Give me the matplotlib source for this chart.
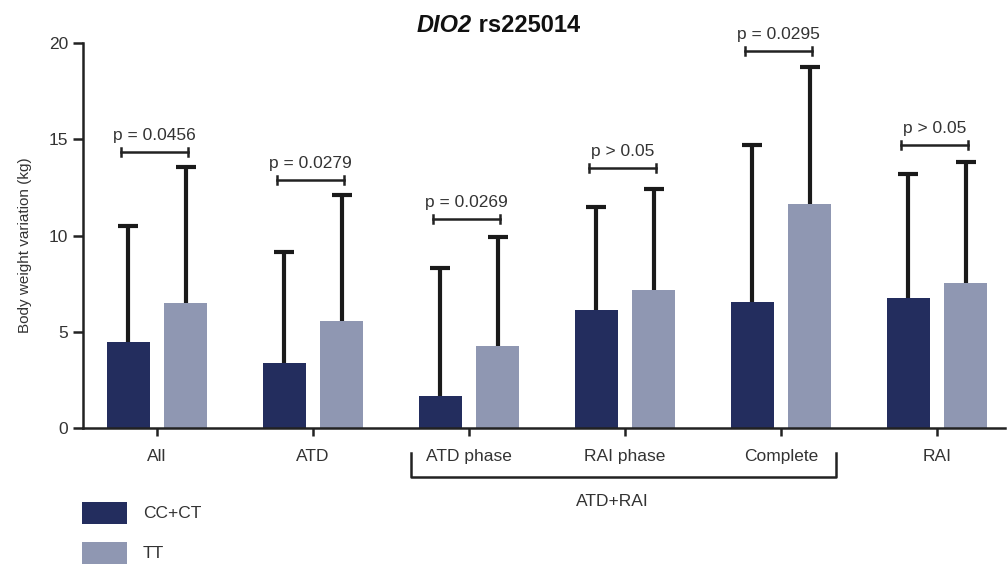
import numpy as np
import matplotlib
matplotlib.use('Agg')
import matplotlib.pyplot as plt
from matplotlib.patches import Rectangle

plt.rcParams['font.family'] = ['Liberation Sans', 'DejaVu Sans']

# data
categories = ['All', 'ATD', 'ATD phase', 'RAI phase', 'Complete', 'RAI']
series_names = ['CC+CT', 'TT']
mean_cc = [4.47, 3.38, 1.64, 6.13, 6.53, 6.75]
mean_tt = [6.49, 5.56, 4.26, 7.17, 11.64, 7.52]
sd_cc = [6.02, 5.76, 6.69, 5.37, 8.17, 6.44]
sd_tt = [7.07, 6.54, 5.65, 5.26, 7.11, 6.30]
p_labels = ['p = 0.0456', 'p = 0.0279', 'p = 0.0269', 'p > 0.05', 'p = 0.0295', 'p > 0.05']
p_heights = [14.35, 12.9, 10.85, 13.5, 19.6, 14.7]
group_label = 'ATD+RAI'
title_gene = 'DIO2'
title_snp = ' rs225014'
ylabel = 'Body weight variation (kg)'

dark = '#232d5e'
light = '#8f97b2'
txt = '#333333'

fig = plt.figure(figsize=(10.07, 5.64), dpi=100)
ax = fig.add_axes([83/1007, 1 - 428/564, (1005 - 83)/1007, (428 - 43)/564])

x = np.arange(len(categories))
w = 0.276
off = 0.185

ax.bar(x - off, mean_cc, w, color=dark, zorder=2)
ax.bar(x + off, mean_tt, w, color=light, zorder=2)
# upper error bars only
for xs, m, sd in [(x - off, mean_cc, sd_cc), (x + off, mean_tt, sd_tt)]:
    eb = ax.errorbar(xs, m, yerr=[np.zeros(len(x)), sd], fmt='none',
                     ecolor='#1a1a1a', elinewidth=3, capsize=7.5, capthick=3, zorder=1)
    eb[1][0].set_visible(False)

# significance brackets
for xi, lab, h in zip(x, p_labels, p_heights):
    x0, x1 = xi - 0.23, xi + 0.2
    ax.plot([x0, x1], [h, h], color='#222222', lw=1.8, clip_on=False)
    ax.plot([x0, x0], [h - 0.2, h + 0.2], color='#222222', lw=1.8, clip_on=False)
    ax.plot([x1, x1], [h - 0.2, h + 0.2], color='#222222', lw=1.8, clip_on=False)
    ax.text((x0 + x1) / 2, h + 0.45, lab, ha='center', va='bottom',
            fontsize=12.5, color=txt)

ax.set_xlim(-0.474, 5.436)
ax.set_ylim(0, 20)
ax.set_yticks([0, 5, 10, 15, 20])
ax.set_xticks(x)
ax.set_xticklabels(categories)
ax.tick_params(axis='both', labelsize=12.5, labelcolor=txt, width=1.8, length=7,
               color='#222222')
ax.tick_params(axis='x', length=6, pad=9)
for s in ['top', 'right']:
    ax.spines[s].set_visible(False)
for s in ['left', 'bottom']:
    ax.spines[s].set_linewidth(1.8)
    ax.spines[s].set_color('#222222')

ax.set_ylabel(ylabel, fontsize=11, color=txt)
ax.yaxis.set_label_coords(-0.055, 0.475)

# ATD+RAI group bracket
trans = ax.get_xaxis_transform()
bx0, bx1 = 1.63, 4.35
yb, yt = -0.127, -0.065
ax.plot([bx0, bx0, bx1, bx1], [yt, yb, yb, yt], color='#222222', lw=1.8,
        transform=trans, clip_on=False)
ax.text(2.92, -0.19, group_label, transform=trans, ha='center', va='center',
        fontsize=12.5, color=txt)

# title
fig.text(472/1007, 1 - 32/564, title_gene, ha='right', va='baseline',
         fontsize=17, fontweight='bold', fontstyle='italic', color='#111111')
fig.text(472/1007, 1 - 32/564, title_snp, ha='left', va='baseline',
         fontsize=17, fontweight='bold', color='#111111')

# legend
for i, (name, col) in enumerate(zip(series_names, [dark, light])):
    top = 502 + i * 40
    fig.patches.append(Rectangle((82/1007, 1 - (top + 22)/564), 45/1007, 22/564,
                                 transform=fig.transFigure, facecolor=col))
    fig.text(143/1007, 1 - (top + 11)/564, name, ha='left', va='center',
             fontsize=12.5, color=txt)

fig.savefig('out.png', dpi=100)
